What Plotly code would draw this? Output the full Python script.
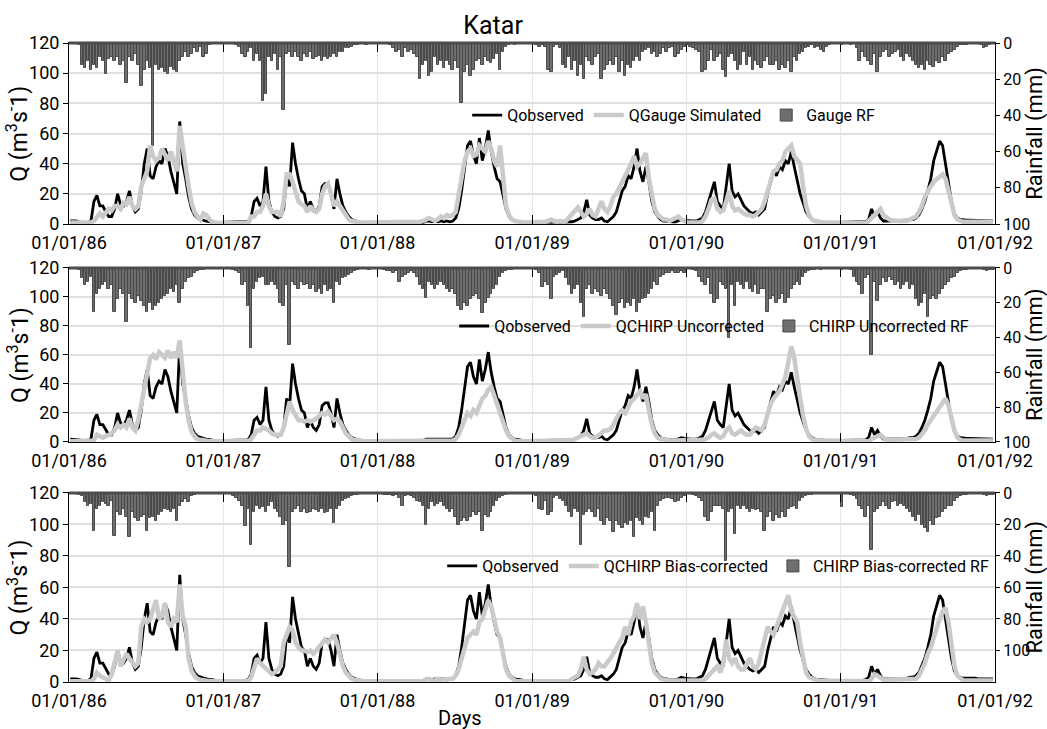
import pandas as pd
import plotly.graph_objects as go

years = [1986, 1987, 1988, 1989, 1990, 1991]
tick_labels = ["01/01/86", "01/01/87", "01/01/88", "01/01/89", "01/01/90", "01/01/91", "01/01/92"]

# weekly values (52 per year), discharge in m3/s
q_observed = [
    [2,2,2,1.5,1,1,1,2,15,19,12,12,8, 5,5,10,20,13,12,15,22,12,8,10,22,40, 50,32,30,38,42,40,50,45,35,28,20,68,40, 30,18,10,6,4,3,2.5,2,1.5,1.5,1,1,1],
    [1,1,1,1,1,1,1,1,1.5,5,15,17,12, 15,38,15,8,5,4,5,10,30,25,54,40,30, 22,20,10,15,10,8,12,25,27,27,20,10,30, 20,12,8,5,3,2,1.5,1.2,1,1,1,1,1],
    [1,1,1,1,1,1,1,1,1,1,1,1,1, 1,1,1,2,2,1.5,2,1.5,2,1.5,2,1.5,2, 4,10,22,38,52,55,45,40,57,42,50,62,48, 38,30,28,18,10,5,3,2,1.5,1.2,1,1,1],
    [1,1,1,1,1,1,1,1,1,1,1,1,1, 1.5,2,3,4,8,16,6,4,3,3,4,2,1.5, 3,5,8,15,22,25,32,30,38,50,35,28,38, 28,15,8,5,3,2,2,1.5,1.5,1.5,2,3,2.5],
    [2,2,2,2,3,4,8,15,22,28,15,12,10, 25,40,22,18,20,16,12,10,8,7,8,6,8, 10,20,28,35,32,38,36,42,40,48,38,28,20, 14,8,5,3,2,1.5,1.5,1.2,1,1,1,1,1],
    [1,1,1,1,1,1,1,1,1.5,3,10,5,8, 4,2,2,2,2,2,2,2,2,2.5,3,3,4, 6,10,15,22,30,42,48,55,52,40,28,15,7, 4,3,2.5,2.5,2.5,2.5,2.5,2,2,2,2,2,2],
]
q_gauge_sim = [
    [1,1,1,1,1,1,1,1,2,4,7,5,8, 10,9,12,12,10,14,13,18,12,10,12,25,30, 35,52,45,42,44,50,45,42,48,40,35,65,50, 35,25,14,8,5,3,7,6,3,1.5,1,0.5,0.5],
    [0.5,0.5,0.5,0.5,0.5,0.5,0.5,0.5,0.5,5,5,8,8, 12,20,12,8,8,8,5,15,33,33,28,20,15, 13,12,8,12,9,8,10,20,25,27,20,12,15, 12,8,5,3,2,1.5,1.5,1,1,1,1,1,1],
    [1,1,1,1,1,1,1,1,1,1,1,1,1, 1,1.5,2,3,4,3,2,3,5,4,6,5,6, 8,20,32,42,48,50,45,46,52,50,48,55,50, 42,38,52,30,12,6,3,2,1.5,1,1,1,1],
    [1,1,1,1,1.5,2,3,2,1.5,2,1.5,2,4, 6,8,11,8,5,7,10,6,5,10,15,10,8, 12,18,20,24,28,32,35,40,45,38,40,44,47, 30,18,10,6,4,3,3,2,3,4,5,3,2],
    [1,1,1,1,1,2,5,10,16,17,10,8,9, 15,22,12,9,10,8,7,6,6,5,6,8,10, 15,22,30,35,36,40,42,48,50,52,45,42,40, 25,12,6,3,2,1.5,1,1,1,1,1,1,1],
    [0.5,0.5,0.5,0.5,0.5,0.5,0.5,0.5,0.5,2,4,6,9, 10,6,4,3,2.5,2,2,2,2,2,3,4,5, 8,12,18,22,25,28,30,32,33,30,22,12,6, 3,2,1.5,1.5,1.5,1.5,1.5,1.5,1.5,1.5,1.5,1.5,1.5],
]
q_chirp_uncorr = [
    [0.5,0.5,0.5,0.5,0.5,0.5,0.5,0.5,1,5,4,3,4, 5,6,8,12,10,12,10,16,10,8,15,25,38, 45,58,60,57,62,60,58,63,58,62,58,70,45, 28,15,7,4,2,1.5,1,1,0.5,0.5,0.5,0.5,0.5],
    [0.5,0.5,0.5,0.5,0.5,0.5,0.5,0.5,0.5,2,5,8,8, 10,9,8,6,5,5,5,10,18,28,22,18,15, 15,14,15,14,15,16,18,20,19,21,18,15,16, 14,10,6,4,2,1.5,1,0.5,0.5,0.5,0.5,0.5,0.5],
    [0.5,0.5,0.5,0.5,0.5,0.5,0.5,0.5,0.5,0.5,0.5,0.5,0.5, 0.5,0.5,0.5,1,1,1,1,1,1,1,1,1,1, 2,5,10,15,20,18,22,20,25,30,32,36,38, 32,25,20,14,8,4,2,1,0.5,0.5,0.5,0.5,0.5],
    [0.5,0.5,0.5,0.5,0.5,0.5,0.5,0.5,0.5,0.5,0.5,0.5,0.5, 1,2,3,4,5,6,4,3,3,5,7,8,8, 9,12,16,20,22,20,24,28,30,32,35,30,33, 22,12,6,3,2,1.5,1,1,1,1,1,1,1],
    [1,1,1,1,1,1.5,2,3,5,6,4,3,4, 8,10,6,5,7,8,6,5,5,8,10,9,8, 12,20,26,30,32,35,40,45,55,66,58,42,30, 18,9,4,2,1.5,1,1,1,1,1,1,1,1],
    [0.5,0.5,0.5,0.5,0.5,0.5,0.5,0.5,0.5,0.5,2,3,4, 5,3,1.5,1.5,1.5,1.5,1.5,1.5,1.5,1.5,1.5,1.5,2, 3,5,8,12,15,18,22,25,28,30,25,16,8, 3,1.5,1,1,1,1,1,1,1,1,1,1,1],
]
q_chirp_biascorr = [
    [0.5,0.5,0.5,0.5,0.5,0.5,0.5,0.5,2,6,4,3,2, 1,5,12,20,10,14,18,15,12,10,12,35,40, 38,40,45,52,40,42,50,38,35,40,38,62,42, 35,15,7,4,2,1.5,1,0.5,0.5,0.5,0.5,0.5,0.5],
    [0.5,0.5,0.5,0.5,0.5,0.5,0.5,0.5,0.5,3,10,15,12, 10,8,6,5,6,8,10,25,30,35,33,25,22, 20,20,19,20,18,20,22,25,27,25,27,30,25, 18,10,6,4,2,1.5,1,0.5,0.5,0.5,0.5,0.5,0.5],
    [0.5,0.5,0.5,0.5,0.5,0.5,0.5,0.5,0.5,0.5,0.5,0.5,0.5, 0.5,0.5,0.5,1.5,2,1,1,2,1,2,1.5,2,2, 4,8,15,22,28,30,32,30,38,40,45,52,48, 40,32,28,18,8,4,2,1,0.5,0.5,0.5,0.5,0.5],
    [0.5,0.5,0.5,0.5,0.5,0.5,0.5,0.5,0.5,0.5,0.5,0.5,0.5, 2,3,4,8,16,8,5,6,8,12,10,10,12, 15,18,22,25,28,35,30,38,42,50,40,48,38, 25,12,6,4,2,1.5,1,1,1,1,1,1,1],
    [1,1,1,1,1,1,2,4,6,8,10,6,12, 27,15,12,15,10,8,8,12,15,10,8,12,20, 28,35,32,30,35,40,45,50,55,45,42,38,25, 14,6,3,2,1.5,1,1,1,1,1,1,1,1],
    [0.5,0.5,0.5,0.5,0.5,0.5,0.5,0.5,0.5,0.5,2,5,4, 3,1.5,1.5,1.5,1.5,1.5,1.5,1.5,1.5,1.5,1.5,1.5,2, 4,8,12,18,22,28,35,40,45,47,38,22,10, 4,2,1,1,1,1,1,1,1,1,1,1,1],
]

# weekly rainfall (mm)
rf_gauge = [
    [0,0.5,0.5,1,12,14,10,15,12,14,8,10,17, 9,8,10,8,12,10,22,8,10,6,12,24,15, 10,14,57,12,15,14,16,17,13,15,16,10,8, 5,8,6,3,5,2,8,6,1,0.5,0,0,0],
    [0,0,0.5,0.5,1,2,6,8,5,3,10,6,10, 32,28,8,10,6,15,8,37,6,5,8,5,8, 10,6,8,5,9,8,7,10,8,9,8,6,8, 5,5,3,3,2,1,1,0.5,0.5,1,0.5,0,0],
    [0,0.5,0.5,0,1,3,5,4,8,3,5,4,6, 8,20,12,10,18,16,8,12,10,14,10,12,15, 10,14,33,16,12,18,15,10,9,12,8,10,11, 9,6,15,5,2,1,0.5,1,0.5,0,0.5,0,0],
    [0,1,2,1,2,15,16,2,1,3,12,14,8, 15,10,18,12,20,8,10,12,8,6,20,15,12, 10,12,8,16,10,18,12,14,10,8,10,5,4, 3,6,5,8,6,3,5,3,2,8,6,4,2],
    [1,2,3,4,5,16,15,10,4,10,8,6,15, 19,8,6,10,15,12,5,12,8,15,10,12,14, 10,8,12,12,10,15,12,14,10,16,8,10,6, 5,3,2,1,3,2,4,5,2,1,0.5,0.5,0],
    [1,0.5,0.5,1,0.5,3,10,5,8,10,12,6,16, 8,5,4,8,6,5,4,8,10,6,8,10,12, 14,12,15,10,12,13,10,11,8,10,6,5,4, 2,1,1,1,0.5,0.5,0,0.5,1,3,2,1,0.5],
]
rf_chirp_uncorr = [
    [0,0,0.5,1,6,10,8,5,25,15,12,10,8, 12,10,25,18,12,15,31,15,18,20,16,19,22, 25,20,24,22,20,18,16,15,12,14,10,20,12, 8,6,5,3,2,1,1,0.5,0,0,0,0,0],
    [0,0,0.5,1,2,3,10,8,22,46,12,8,6, 5,10,10,8,10,12,20,22,10,44,8,10,12, 8,10,9,12,10,14,12,15,10,13,12,20,8, 10,6,5,4,3,2,1,0.5,0.5,0.5,1,0.5,0],
    [0,0.5,1,2,2,3,2,8,5,4,3,2,3, 5,10,12,17,8,10,12,10,8,10,12,14,12, 15,22,24,20,22,18,16,15,18,26,20,17,15, 12,10,5,3,2,1,1,0.5,0.5,0,0,0,0],
    [0,1,3,11,8,10,18,5,4,3,2,6,10, 15,12,10,20,28,12,10,15,12,14,16,12,15, 18,22,27,20,18,23,20,22,18,25,20,18,17, 15,12,8,10,5,4,3,3,2,3,3,2,3],
    [0,0.5,1,2,5,8,10,6,15,20,18,8,10, 12,40,10,22,8,10,12,8,12,14,10,15,12, 12,25,18,16,20,18,15,20,17,12,10,8,10, 5,3,2,1,1,0.5,1,0.5,0,0,0,0,0],
    [1,0.5,0.5,1,5,8,10,15,6,4,50,8,19, 10,6,8,5,7,10,8,12,10,8,12,10,18, 22,20,15,28,18,16,18,15,12,10,8,6,5, 3,2,1,1,0.5,0.5,0.5,0.5,0.5,1,2,1,1],
]
rf_chirp_biascorr = [
    [0,0,0.5,1,2,6,8,7,24,10,8,6,7, 8,5,27,12,14,10,15,28,12,16,18,15,14, 24,16,15,18,14,12,10,11,12,10,18,8,6, 4,6,2,1,0.5,0.5,0.5,0,0,0,0,0,0],
    [0,0,0.5,2,3,5,8,21,10,33,12,8,10, 9,12,8,6,10,12,15,20,18,47,12,10,8, 12,10,13,12,10,11,12,10,13,12,10,19,10, 8,5,4,3,2,1,1,0.5,0.5,0,0,0,0],
    [0,0.5,1,1.5,1,2,1,3,8,2,1,2,3, 5,6,8,20,10,6,8,7,6,8,10,12,10, 15,20,18,16,18,15,12,14,12,24,14,15,12, 8,5,3,2,1,0.5,0.5,0,0.5,0,0,0,0],
    [0,2,10,11,5,14,12,3,2,4,5,8,12, 15,10,12,33,14,12,10,12,15,10,18,20,16, 18,25,18,20,22,19,20,18,28,16,18,20,15, 16,12,24,8,5,4,3,3,4,6,5,3,2],
    [0,0.5,1,2,3,5,15,18,12,8,8,8,10, 43,12,10,26,8,10,8,10,12,10,11,10,12, 24,15,12,18,14,16,12,15,10,9,8,10,5, 3,2,1,1,0.5,0.5,0.5,0,0,0,0,0,0],
    [9,0.5,0.5,1,2,4,8,10,15,8,36,12,10, 8,6,8,10,6,5,8,7,8,10,12,15,18, 14,20,22,25,18,20,16,15,12,10,8,8,5, 3,2,1,1,0.5,0.5,0.5,0.5,0.5,1,2,1,1],
]

sim_names = ["QGauge Simulated", "QCHIRP Uncorrected", "QCHIRP Bias-corrected"]
rf_names = ["Gauge RF", "CHIRP Uncorrected RF", "CHIRP Bias-corrected RF"]
sim_series = [q_gauge_sim, q_chirp_uncorr, q_chirp_biascorr]
rf_series = [rf_gauge, rf_chirp_uncorr, rf_chirp_biascorr]
rf_max = [100, 100, 120]


def flatten(nested):
    xs, ys = [], []
    for yr, vals in zip(years, nested):
        start = pd.Timestamp(f"{yr}-01-01")
        for w, v in enumerate(vals):
            xs.append(start + pd.Timedelta(days=7 * w + 3))
            ys.append(v)
    return xs, ys


FONT = "Liberation Sans Narrow, Arial Narrow, Roboto, sans-serif"
domains = [[0.7167, 1.0], [0.3756, 0.6479], [0.0, 0.2958]]
legend_x = [0.43, 0.416, 0.403]
legend_y = [0.887, 0.557, 0.1815]
panel_mid = [0.858, 0.5117, 0.1479]

fig = go.Figure()
xo, yo = flatten(q_observed)

layout = dict(
    width=1047, height=729,
    margin=dict(l=69, r=52, t=43, b=47, autoexpand=False),
    paper_bgcolor="white", plot_bgcolor="white",
    font=dict(family=FONT, size=18, color="black"),
    showlegend=True,
    bargap=0,
    title=dict(text="Katar", x=0.458, xref="paper", xanchor="center",
               y=1 - 25 / 729, yanchor="middle", font=dict(size=25, family=FONT)),
)
shapes = []
annotations = []
for i in range(3):
    xa = "x" if i == 0 else f"x{i + 1}"
    ry = f"y{2 * i + 1}" if i > 0 else "y"
    qy = f"y{2 * i + 2}"
    lg = "legend" if i == 0 else f"legend{i + 1}"

    xr, yr = flatten(rf_series[i])
    fig.add_trace(go.Bar(x=xr, y=yr, xaxis=xa, yaxis=ry, name=rf_names[i],
                         width=6 * 86400000,
                         marker=dict(color="#6e6e6e", line=dict(color="#4a4a4a", width=1)),
                         legend=lg, legendrank=3))
    fig.add_trace(go.Scatter(x=xo, y=yo, xaxis=xa, yaxis=qy, mode="lines", name="Qobserved",
                             line=dict(color="black", width=2.8), legend=lg, legendrank=1))
    xs, ys = flatten(sim_series[i])
    fig.add_trace(go.Scatter(x=xs, y=ys, xaxis=xa, yaxis=qy, mode="lines", name=sim_names[i],
                             line=dict(color="#cacaca", width=4.5), legend=lg, legendrank=2))

    xkey = "xaxis" if i == 0 else f"xaxis{i + 1}"
    rkey = "yaxis" if i == 0 else f"yaxis{2 * i + 1}"
    qkey = f"yaxis{2 * i + 2}"
    layout[xkey] = dict(domain=[0, 1], anchor=ry, type="date", automargin=False,
                        range=["1986-01-01", "1992-01-01"],
                        tickvals=[f"{y}-01-01" for y in range(1986, 1993)],
                        ticktext=tick_labels, ticklabelstandoff=2,
                        ticks="inside", ticklen=9, tickcolor="black",
                        showline=True, linecolor="black", linewidth=1, mirror="ticks",
                        showgrid=True, gridcolor="#e6e6e6", gridwidth=1,
                        tickfont=dict(size=18), zeroline=False)
    layout[rkey] = dict(domain=domains[i], anchor=xa, side="right", automargin=False,
                        range=[rf_max[i], 0], tickvals=[0, 20, 40, 60, 80, 100],
                        ticks="outside", ticklen=4, tickcolor="black",
                        showline=True, linecolor="black", linewidth=1,
                        showgrid=False, zeroline=False,
                        tickfont=dict(size=16))
    layout[qkey] = dict(domain=domains[i], anchor=xa, overlaying=ry, side="left", automargin=False,
                        range=[0, 120], dtick=20, tick0=0,
                        ticks="outside", ticklen=5, tickcolor="black",
                        showline=True, linecolor="black", linewidth=1,
                        showgrid=True, gridcolor="#e0e0e0", gridwidth=1.5, zeroline=False,
                        tickfont=dict(size=18))
    layout[lg] = dict(orientation="h", x=legend_x[i], xanchor="left", y=legend_y[i], yanchor="middle",
                      bgcolor="rgba(0,0,0,0)", font=dict(size=16, family=FONT),
                      itemwidth=30, tracegroupgap=0, traceorder="normal")
    shapes.append(dict(type="line", xref=f"{xa} domain", yref=f"{ry} domain",
                       x0=0, x1=1, y0=1, y1=1, line=dict(color="#4d4d4d", width=3)))
    annotations.append(dict(text="Q (m<sup>3</sup>s<sup>-</sup>1)", xref="paper", yref="paper",
                            x=(18 - 69) / 926, y=panel_mid[i], textangle=-90,
                            xanchor="center", yanchor="middle", showarrow=False,
                            font=dict(size=23, family=FONT)))
    annotations.append(dict(text="Rainfall (mm)", xref="paper", yref="paper",
                            x=(1035 - 69) / 926, y=panel_mid[i], textangle=-90,
                            xanchor="center", yanchor="middle", showarrow=False,
                            font=dict(size=22, family=FONT)))

annotations.append(dict(text="Days", xref="paper", yref="paper",
                        x=(460 - 69) / 926, y=(682 - 718) / 639,
                        xanchor="center", yanchor="middle", showarrow=False,
                        font=dict(size=20, family=FONT)))
layout["shapes"] = shapes
layout["annotations"] = annotations
fig.update_layout(**layout)
fig.write_html("out.html")
